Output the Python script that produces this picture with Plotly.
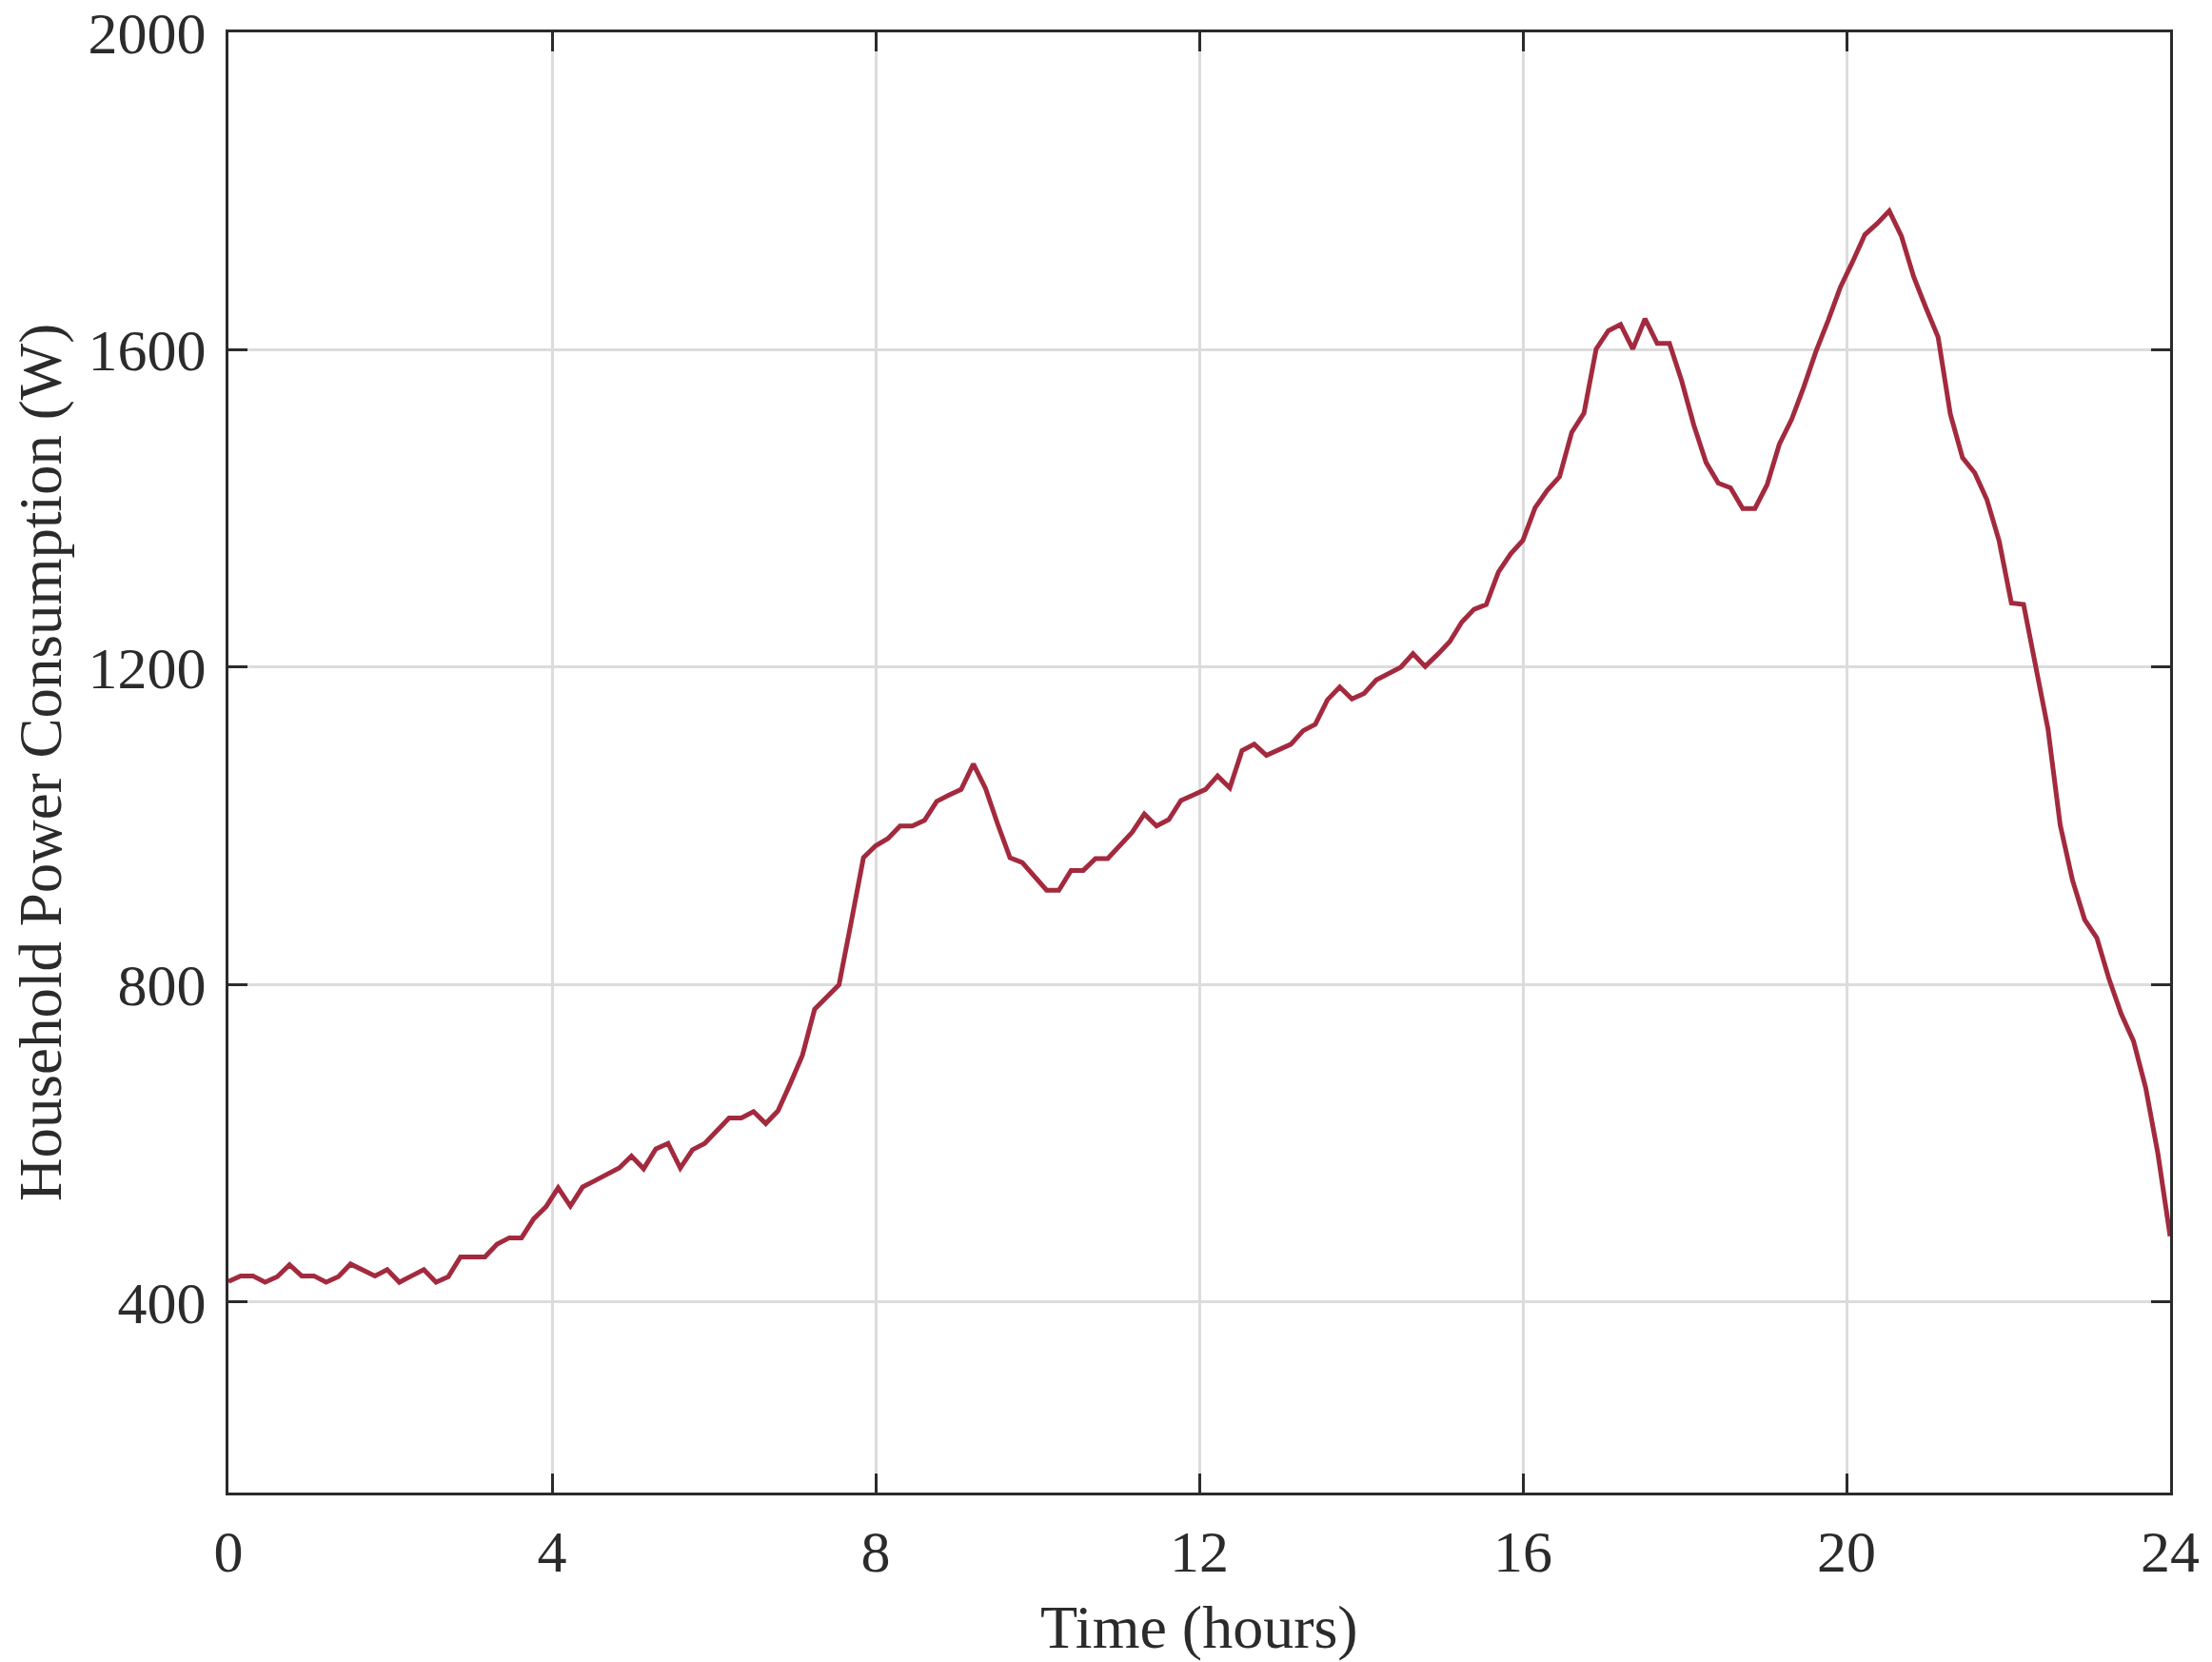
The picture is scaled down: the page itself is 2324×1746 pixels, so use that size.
import numpy as np
import plotly.graph_objects as go

# 160 samples across one day (hours)
time_hours = np.linspace(0, 24, 160)

# household power consumption (W)
power_w = [
    426, 433, 433, 425, 432, 447, 433, 433, 425, 432,
    448, 441, 433, 441, 425, 433, 441, 425, 432, 457,
    457, 457, 473, 481, 481, 505, 520, 544, 521, 545,
    553, 561, 569, 584, 568, 593, 600, 569, 592, 600,
    616, 632, 632, 640, 625, 641, 675, 711, 769, 785,
    800, 879, 960, 975, 984, 1000, 1000, 1007, 1031, 1039,
    1046, 1078, 1047, 1002, 960, 954, 937, 919, 919, 944,
    944, 959, 959, 976, 992, 1015, 1000, 1008, 1032, 1039,
    1046, 1063, 1048, 1095, 1103, 1089, 1096, 1103, 1120, 1128,
    1159, 1175, 1160, 1167, 1184, 1192, 1200, 1217, 1201, 1216,
    1232, 1257, 1273, 1279, 1320, 1343, 1360, 1401, 1423, 1440,
    1496, 1520, 1601, 1624, 1632, 1601, 1639, 1608, 1608, 1561,
    1505, 1458, 1432, 1426, 1400, 1400, 1430, 1481, 1512, 1553,
    1598, 1637, 1679, 1711, 1745, 1759, 1775, 1743, 1692, 1653,
    1616, 1519, 1464, 1445, 1411, 1359, 1281, 1279, 1204, 1122,
    1001, 932, 882, 859, 807, 763, 729, 670, 587, 483,
]

x_ticks = [0, 4, 8, 12, 16, 20, 24]
y_ticks = [400, 800, 1200, 1600, 2000]

axis_color = "#2b2b2b"
grid_color = "#dcdcdc"
font_family = "Liberation Serif, Times New Roman, serif"

fig = go.Figure()

fig.add_trace(go.Scatter(
    x=time_hours,
    y=power_w,
    mode="lines",
    line=dict(color="#a32a3e", width=5),
    showlegend=False,
))

common_axis = dict(
    automargin=False,
    showline=True,
    linecolor=axis_color,
    linewidth=3,
    mirror="allticks",
    ticks="inside",
    ticklen=20,
    tickwidth=3,
    tickcolor=axis_color,
    showgrid=True,
    gridcolor=grid_color,
    gridwidth=2.5,
    zeroline=False,
    ticklabeloverflow="allow",
    tickfont=dict(family=font_family, size=62, color=axis_color),
)

fig.update_xaxes(
    range=[0, 24],
    tickvals=x_ticks,
    ticktext=[str(t) for t in x_ticks],
    ticklabelstandoff=6,
    **common_axis,
)

fig.update_yaxes(
    range=[160, 2000],
    tickvals=y_ticks,
    ticktext=[str(t) for t in y_ticks],
    ticklabelstandoff=8,
    **common_axis,
)

# axis titles as annotations so their distance from the axes is exact
fig.add_annotation(
    text="Time (hours)", xref="paper", yref="paper", x=0.5, y=0,
    xanchor="center", yanchor="middle", yshift=-141, showarrow=False,
    font=dict(family=font_family, size=64, color=axis_color),
)
fig.add_annotation(
    text="Household Power Consumption (W)", xref="paper", yref="paper", x=0, y=0.5,
    xanchor="center", yanchor="middle", xshift=-197, textangle=-90, showarrow=False,
    font=dict(family=font_family, size=63, color=axis_color),
)

# page body adds an 8px offset, so the figure is a bit smaller than the window
fig.update_layout(
    width=2316,
    height=1738,
    margin=dict(l=232, r=44, t=26, b=178),
    paper_bgcolor="white",
    plot_bgcolor="white",
    font=dict(family=font_family, color=axis_color),
)

fig.write_html("out.html")
